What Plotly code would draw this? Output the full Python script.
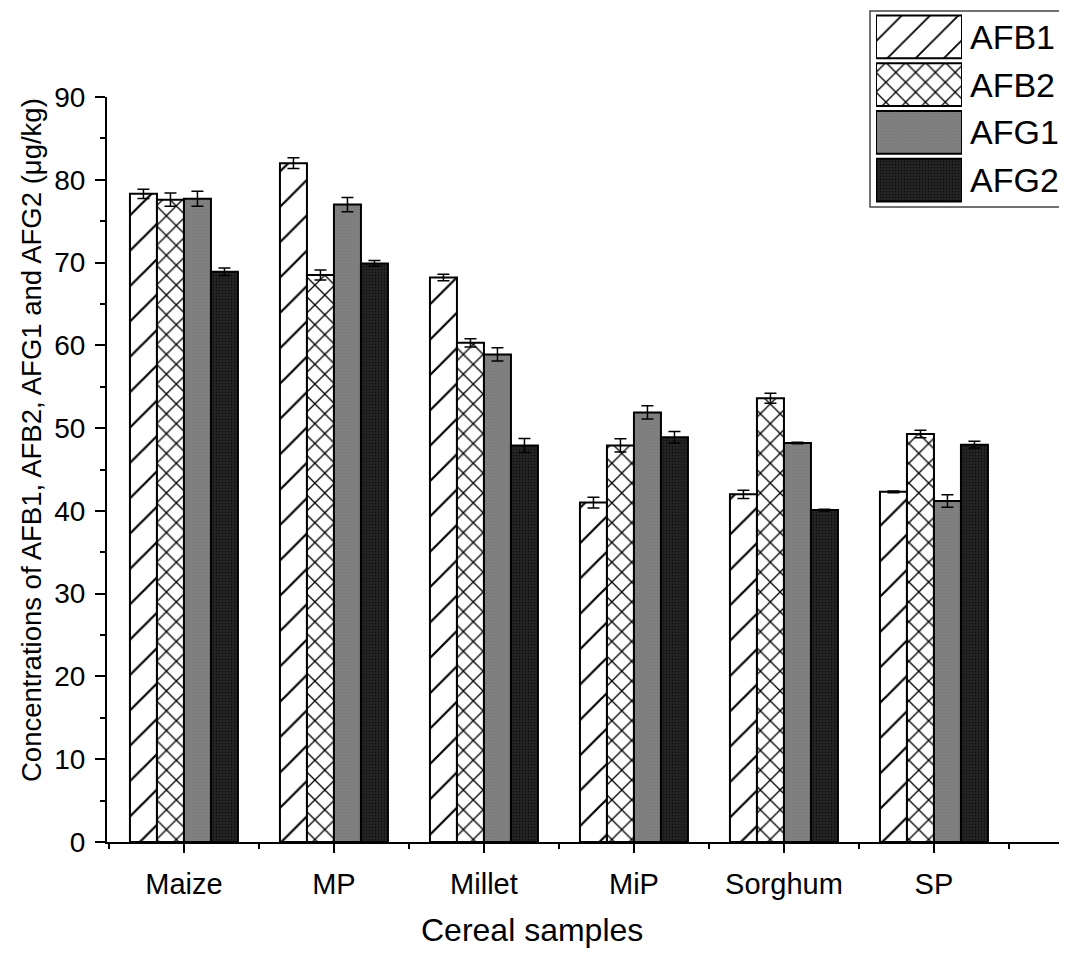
import plotly.graph_objects as go

categories = ["Maize", "MP", "Millet", "MiP", "Sorghum", "SP"]
series = ["AFB1", "AFB2", "AFG1", "AFG2"]
afb1 = [78.3, 82.0, 68.2, 41.0, 42.0, 42.3]
afb2 = [77.6, 68.5, 60.3, 47.9, 53.6, 49.3]
afg1 = [77.7, 77.0, 58.9, 51.9, 48.2, 41.2]
afg2 = [68.9, 69.9, 47.9, 48.9, 40.1, 48.0]
afb1_err = [0.55, 0.65, 0.4, 0.65, 0.5, 0.1]
afb2_err = [0.8, 0.6, 0.5, 0.8, 0.6, 0.45]
afg1_err = [0.9, 0.85, 0.8, 0.8, 0.1, 0.75]
afg2_err = [0.45, 0.35, 0.85, 0.7, 0.1, 0.4]

values = [afb1, afb2, afg1, afg2]
errors = [afb1_err, afb2_err, afg1_err, afg2_err]

styles = [
    dict(fg="black", bg="white", shape="/", size=25, solidity=0.09),
    dict(fg="black", bg="white", shape="x", size=14, solidity=0.18),
    dict(fg="#787878", bg="#808080", shape=".", size=3, solidity=0.2),
    dict(fg="#111111", bg="#262626", shape=".", size=3, solidity=0.35),
]

x_pos = list(range(len(categories)))

fig = go.Figure()
for name, vals, errs, st in zip(series, values, errors, styles):
    fig.add_trace(go.Bar(
        x=x_pos, y=vals, name=name, showlegend=False,
        marker=dict(color=st["bg"], line=dict(color="black", width=2),
                    pattern=dict(shape=st["shape"], fgcolor=st["fg"], bgcolor=st["bg"],
                                 size=st["size"], solidity=st["solidity"], fillmode="replace")),
        error_y=dict(type="data", array=errs, visible=True, color="black", thickness=1.5, width=6),
        xaxis="x", yaxis="y",
    ))

# Legend drawn as a small auxiliary axis with big patterned swatches
for name, st in zip(series, styles):
    fig.add_trace(go.Bar(
        x=[1], y=[name], orientation="h", showlegend=False, width=0.9,
        marker=dict(color=st["bg"], line=dict(color="black", width=2),
                    pattern=dict(shape=st["shape"], fgcolor=st["fg"], bgcolor=st["bg"],
                                 size=20 if st["shape"] == "/" else st["size"],
                                 solidity=st["solidity"], fillmode="replace")),
        xaxis="x2", yaxis="y2", hoverinfo="skip",
    ))

# page body has an 8px margin; figure sized so it fits the 1067x953 window
OFF = 8
W, H = 1067 - OFF, 953 - OFF
L = 107 - OFF
B = H - (842 - OFF)
pw = W - L
ph = H - B

def px_x(p):
    # reference pixel -> paper coordinate
    return (p - OFF - L) / pw

def px_y(p):
    return (H - B - (p - OFF)) / ph

fig.update_layout(
    width=W, height=H,
    margin=dict(l=L, r=0, t=0, b=B, autoexpand=False),
    paper_bgcolor="white", plot_bgcolor="rgba(0,0,0,0)",
    barmode="group", bargap=0.28, bargroupgap=0,
    font=dict(family="Liberation Sans, Arial, sans-serif", color="black"),
    xaxis=dict(
        domain=[0, 1], range=[-0.513, 5.887], automargin=False,
        tickmode="array", tickvals=x_pos, ticktext=categories,
        ticks="outside", ticklen=9, tickwidth=2, tickcolor="black",
        minor=dict(tickmode="array", tickvals=[i + 0.5 for i in range(-1, 6)],
                   ticks="outside", ticklen=5, tickwidth=2, tickcolor="black"),
        showline=True, linecolor="black", linewidth=2,
        showgrid=False, zeroline=False,
        tickfont=dict(size=29), ticklabelstandoff=6,
    ),
    yaxis=dict(
        domain=[0, px_y(97)], range=[0, 90], automargin=False,
        tickmode="linear", tick0=0, dtick=10,
        ticks="outside", ticklen=10, tickwidth=2, tickcolor="black",
        minor=dict(dtick=5, ticks="outside", ticklen=5, tickwidth=2, tickcolor="black"),
        showline=True, linecolor="black", linewidth=2,
        showgrid=False, zeroline=False,
        tickfont=dict(size=28), ticklabelstandoff=4,
    ),
    xaxis2=dict(domain=[px_x(876), px_x(962)], range=[0, 1], visible=False, anchor="y2",
                automargin=False),
    yaxis2=dict(domain=[px_y(204), px_y(13)], visible=False, anchor="x2", automargin=False,
                categoryorder="array", categoryarray=series[::-1], type="category"),
)

# Axis titles
fig.add_annotation(x=px_x(532), y=px_y(930), xref="paper", yref="paper",
                   text="Cereal samples", showarrow=False,
                   xanchor="center", yanchor="middle", font=dict(size=32))
fig.add_annotation(x=px_x(31), y=px_y(440), xref="paper", yref="paper",
                   text="Concentrations of AFB1, AFB2, AFG1 and AFG2 (μg/kg)", showarrow=False,
                   textangle=-90, xanchor="center", yanchor="middle", font=dict(size=27.5))

fig.add_shape(type="rect", xref="paper", yref="paper",
              x0=px_x(870), x1=px_x(1080), y0=px_y(207), y1=px_y(11),
              line=dict(color="#444", width=1.5), fillcolor="rgba(0,0,0,0)", layer="below")

for name in series:
    fig.add_annotation(x=px_x(968), y=name, xref="paper", yref="y2",
                       text=name, showarrow=False, xanchor="left", yanchor="middle",
                       font=dict(size=34, color="black"))

fig.write_html("out.html")
